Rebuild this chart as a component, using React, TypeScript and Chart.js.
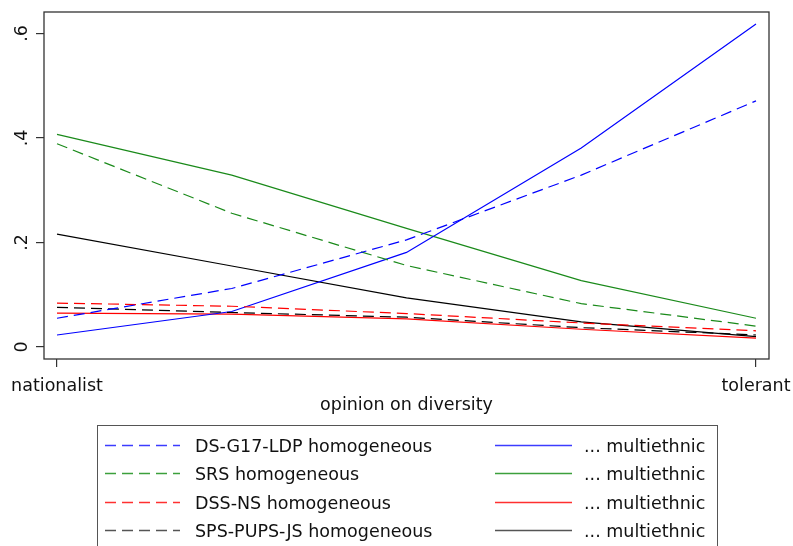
import React, { useEffect, useRef } from "react";
import { Chart, registerables } from "chart.js";

Chart.register(...registerables);

// ---- data ----
const xPositions = [0, 0.25, 0.5, 0.75, 1];
const xTickValues = [0, 1];
const xTickLabels = ["nationalist", "tolerant"];
const yTickValues = [0, 0.2, 0.4, 0.6];
const yTickLabels = ["0", ".2", ".4", ".6"];
const xAxisTitle = "opinion on diversity";

const dsHomogeneous = [0.055, 0.112, 0.205, 0.329, 0.471];
const srsHomogeneous = [0.389, 0.256, 0.156, 0.083, 0.04];
const dssHomogeneous = [0.084, 0.078, 0.064, 0.046, 0.031];
const spsHomogeneous = [0.076, 0.066, 0.057, 0.037, 0.023];
const dsMultiethnic = [0.023, 0.068, 0.181, 0.381, 0.618];
const srsMultiethnic = [0.407, 0.329, 0.227, 0.127, 0.055];
const dssMultiethnic = [0.065, 0.063, 0.054, 0.034, 0.017];
const spsMultiethnic = [0.216, 0.155, 0.094, 0.048, 0.02];

const homogeneousLabels = [
  "DS-G17-LDP homogeneous",
  "SRS homogeneous",
  "DSS-NS homogeneous",
  "SPS-PUPS-JS homogeneous",
];
const multiethnicLabels = [
  "... multiethnic",
  "... multiethnic",
  "... multiethnic",
  "... multiethnic",
];
const partyColors = ["#0000ff", "#1a8a1a", "#ff0000", "#000000"];
const legendColors = ["#3c3cff", "#3ca03c", "#ff3030", "#555555"];

const FONT = "'DejaVu Sans', Verdana, sans-serif";
const FONT_SIZE = 17.5;
const TEXT_COLOR = "#111111";
const AXIS_COLOR = "#333333";
const DASH = [11, 6];

const W = 793;
const H = 546;

export default function App() {
  const canvasRef = useRef<HTMLCanvasElement | null>(null);

  useEffect(() => {
    const canvas = canvasRef.current;
    if (!canvas) return;

    const homSeries = [dsHomogeneous, srsHomogeneous, dssHomogeneous, spsHomogeneous];
    const mulSeries = [dsMultiethnic, srsMultiethnic, dssMultiethnic, spsMultiethnic];

    const datasets: any[] = [];
    homSeries.forEach((s, i) => {
      datasets.push({
        label: homogeneousLabels[i],
        data: s.map((v, j) => ({ x: xPositions[j], y: v })),
        borderColor: partyColors[i],
        borderWidth: 1.2,
        borderDash: DASH,
        pointRadius: 0,
        fill: false,
        tension: 0,
      });
    });
    mulSeries.forEach((s, i) => {
      datasets.push({
        label: multiethnicLabels[i],
        data: s.map((v, j) => ({ x: xPositions[j], y: v })),
        borderColor: partyColors[i],
        borderWidth: 1.2,
        pointRadius: 0,
        fill: false,
        tension: 0,
      });
    });

    const framePlugin = {
      id: "frameAndLegend",
      afterDraw(chart: any) {
        const ctx = chart.ctx as CanvasRenderingContext2D;
        const a = chart.chartArea;
        ctx.save();
        // plot frame
        ctx.strokeStyle = AXIS_COLOR;
        ctx.lineWidth = 1.3;
        ctx.setLineDash([]);
        ctx.strokeRect(a.left, a.top, a.right - a.left, a.bottom - a.top);

        // rotated y tick labels
        const ys = chart.scales.y;
        ctx.fillStyle = TEXT_COLOR;
        ctx.font = `${FONT_SIZE}px ${FONT}`;
        ctx.textAlign = "center";
        ctx.textBaseline = "alphabetic";
        yTickValues.forEach((v, i) => {
          const py = ys.getPixelForValue(v);
          ctx.save();
          ctx.translate(27, py);
          ctx.rotate(-Math.PI / 2);
          ctx.fillText(yTickLabels[i], 0, 0);
          ctx.restore();
        });

        // legend box
        const lx = 97, ly = 425, lr = 717;
        ctx.strokeStyle = "#555555";
        ctx.lineWidth = 1;
        ctx.strokeRect(lx + 0.5, ly + 0.5, lr - lx, 200);
        const rowH = 28.5;
        const firstRow = 19.5;
        for (let r = 0; r < 4; r++) {
          const yText = ly + firstRow + r * rowH;
          const y = Math.round(yText) + 0.5;
          const cols = [
            { label: homogeneousLabels[r], dash: DASH, x0: 105, x1: 180, tx: 195 },
            { label: multiethnicLabels[r], dash: [] as number[], x0: 495, x1: 572, tx: 584 },
          ];
          cols.forEach((c) => {
            ctx.beginPath();
            ctx.strokeStyle = legendColors[r];
            ctx.lineWidth = 1.4;
            ctx.setLineDash(c.dash);
            ctx.moveTo(c.x0, y);
            ctx.lineTo(c.x1, y);
            ctx.stroke();
            ctx.setLineDash([]);
            ctx.fillStyle = TEXT_COLOR;
            ctx.textAlign = "left";
            ctx.textBaseline = "alphabetic";
            ctx.fillText(c.label, c.tx, yText + 7.4);
          });
        }
        ctx.restore();
      },
    };

    const chart = new Chart(canvas, {
      type: "line",
      data: { datasets },
      plugins: [framePlugin],
      options: {
        animation: false,
        responsive: false,
        devicePixelRatio: 1,
        layout: { padding: { top: 12, right: 24, left: 0, bottom: 125 } },
        plugins: {
          legend: { display: false },
          tooltip: { enabled: false },
          title: { display: false },
        },
        scales: {
          x: {
            type: "linear",
            min: -13 / 699,
            max: 1 + 13 / 699,
            afterBuildTicks: (scale: any) => {
              scale.ticks = xTickValues.map((v) => ({ value: v }));
            },
            afterFit: (scale: any) => {
              scale.height = 62;
              scale.paddingLeft = 0;
              scale.paddingRight = 0;
            },
            border: { display: false },
            grid: {
              drawOnChartArea: false,
              drawTicks: true,
              tickLength: 8,
              tickColor: AXIS_COLOR,
              lineWidth: 1.2,
            },
            ticks: {
              autoSkip: false,
              maxRotation: 0,
              minRotation: 0,
              padding: 9,
              color: TEXT_COLOR,
              font: { family: FONT, size: FONT_SIZE },
              callback: (v: any) => {
                const i = xTickValues.indexOf(Number(v));
                return i >= 0 ? xTickLabels[i] : "";
              },
            },
            title: {
              display: true,
              text: xAxisTitle,
              color: TEXT_COLOR,
              font: { family: FONT, size: FONT_SIZE },
              padding: { top: 0, bottom: 5.5 },
            },
          },
          y: {
            type: "linear",
            min: -12 / 104.5 * 0.2,
            max: 335 / 104.5 * 0.2,
            afterBuildTicks: (scale: any) => {
              scale.ticks = yTickValues.map((v) => ({ value: v }));
            },
            afterFit: (scale: any) => {
              scale.width = 44;
              scale.paddingTop = 0;
              scale.paddingBottom = 0;
            },
            border: { display: false },
            grid: {
              drawOnChartArea: false,
              drawTicks: true,
              tickLength: 8,
              tickColor: AXIS_COLOR,
              lineWidth: 1.2,
            },
            ticks: { display: false },
          },
        },
      } as any,
    });

    return () => {
      chart.destroy();
    };
  }, []);

  return (
    <div style={{ position: "fixed", left: 0, top: 0, width: W, height: H, background: "#fff" }}>
      <canvas ref={canvasRef} width={W} height={H} style={{ width: W, height: H, display: "block" }} />
    </div>
  );
}
